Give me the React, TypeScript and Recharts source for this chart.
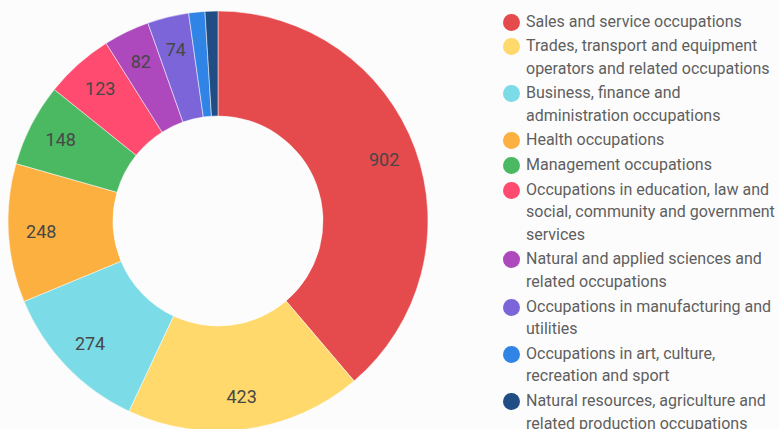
import { PieChart, Pie, Cell, Legend } from 'recharts';

const occupations = [
  'Sales and service occupations',
  'Trades, transport and equipment operators and related occupations',
  'Business, finance and administration occupations',
  'Health occupations',
  'Management occupations',
  'Occupations in education, law and social, community and government services',
  'Natural and applied sciences and related occupations',
  'Occupations in manufacturing and utilities',
  'Occupations in art, culture, recreation and sport',
  'Natural resources, agriculture and related production occupations',
];

const counts = [902, 423, 274, 248, 148, 123, 82, 74, 29, 23];

const COLORS = [
  '#e54a4d',
  '#ffd96b',
  '#7bdbe6',
  '#fcb03f',
  '#4bb862',
  '#ff4b6f',
  '#ad48bd',
  '#7c65d8',
  '#2f84e6',
  '#1f4d84',
];

const data = occupations.map((name, i) => ({ name, value: counts[i] }));

const RADIAN = Math.PI / 180;

function renderLabel(props: any) {
  const { cx, cy, midAngle, value } = props;
  if (value < 50) return null;
  const r = 177;
  const x = cx + r * Math.cos(-midAngle * RADIAN);
  const y = cy + r * Math.sin(-midAngle * RADIAN);
  return (
    <text
      x={x}
      y={y}
      fill="#474747"
      fontSize={18}
      textAnchor="middle"
      dominantBaseline="central"
      fontFamily="Roboto, sans-serif"
    >
      {value}
    </text>
  );
}

function LegendList() {
  return (
    <div style={{ fontFamily: 'Roboto, sans-serif', fontSize: 16, color: '#5f5f5f' }}>
      {data.map((d, i) => (
        <div
          key={d.name}
          style={{ display: 'flex', alignItems: 'flex-start', marginBottom: 2, lineHeight: '22.6px' }}
        >
          <span
            style={{
              width: 17,
              height: 17,
              borderRadius: '50%',
              background: COLORS[i],
              flex: '0 0 17px',
              marginTop: 3,
              marginRight: 6,
            }}
          />
          <span style={{ width: 255 }}>{d.name}</span>
        </div>
      ))}
    </div>
  );
}

export default function App() {
  return (
    <div style={{ position: 'absolute', left: 0, top: 0, width: 779, height: 429, background: '#fcfcfc' }}>
      <PieChart width={779} height={429} margin={{ top: 0, right: 0, bottom: 0, left: 0 }}>
        <Pie
          data={data}
          dataKey="value"
          cx={218}
          cy={221}
          innerRadius={105}
          outerRadius={210}
          startAngle={90}
          endAngle={-270}
          stroke="#ffffff"
          strokeWidth={0.5}
          labelLine={false}
          label={renderLabel}
          isAnimationActive={false}
        >
          {data.map((entry, index) => (
            <Cell key={`cell-${index}`} fill={COLORS[index]} />
          ))}
        </Pie>
        <Legend
          layout="vertical"
          align="right"
          verticalAlign="top"
          content={() => <LegendList />}
          wrapperStyle={{ left: 503, top: 10.5, width: 276 }}
        />
      </PieChart>
    </div>
  );
}
